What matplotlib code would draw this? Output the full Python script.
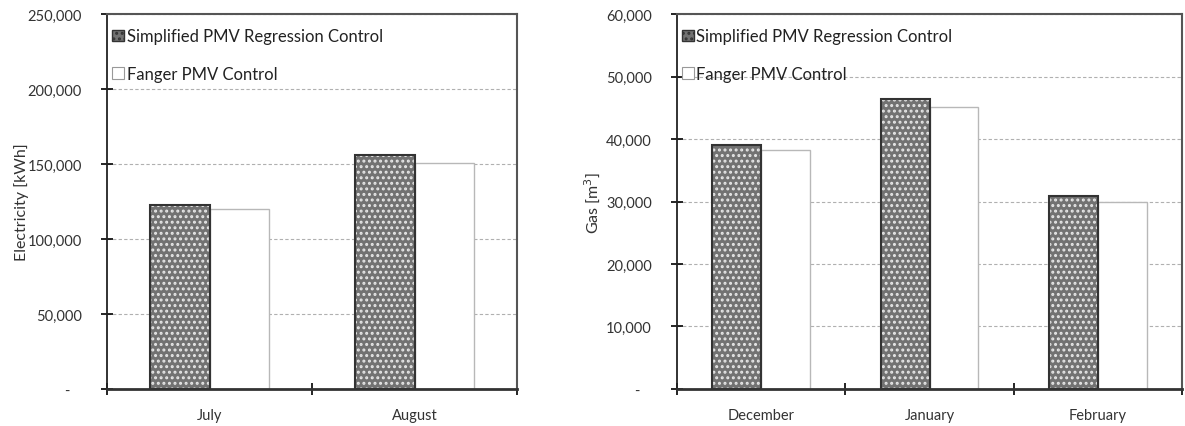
import numpy as np
import matplotlib
matplotlib.use("Agg")
import matplotlib.pyplot as plt
from matplotlib.ticker import FuncFormatter

plt.rcParams['font.family'] = ['Lato', 'DejaVu Sans']
plt.rcParams['hatch.linewidth'] = 1.4

series_names = ['Simplified PMV Regression Control', 'Fanger PMV Control']

elec_months = ['July', 'August']
elec_simplified = [122500, 156300]
elec_fanger = [120000, 150600]

gas_months = ['December', 'January', 'February']
gas_simplified = [39000, 46400, 30900]
gas_fanger = [38200, 45100, 29900]


def fmt(v, pos):
    if v == 0:
        return '-   '
    return '{:,.0f}'.format(v)


def draw(ax, cats, simp, fang, ymax, ystep, ylabel, lpad):
    x = np.arange(len(cats))
    w = 0.29
    ax.bar(x - w / 2, simp, w, color='#727272', hatch='...', edgecolor='#e6e6e6',
           linewidth=0, zorder=2)
    ax.bar(x - w / 2, simp, w, color='none', edgecolor='#333333', linewidth=1.5, zorder=3)
    ax.bar(x + w / 2, fang, w, color='white', edgecolor='#b8b8b8', linewidth=1.0, zorder=2)

    ax.set_xlim(-0.5, len(cats) - 0.5)
    ax.set_ylim(0, ymax)
    ax.set_yticks(np.arange(0, ymax + 1, ystep))
    ax.yaxis.set_major_formatter(FuncFormatter(fmt))
    ax.set_xticks(x)
    ax.set_xticklabels(cats)
    ax.set_xticks(np.arange(-0.5, len(cats)), minor=True)
    ax.tick_params(axis='x', which='major', length=0, pad=14, labelsize=10.5, colors='#333333')
    ax.tick_params(axis='x', which='minor', length=8, direction='inout', width=1.2)
    ax.tick_params(axis='y', length=8, direction='inout', width=1.2, labelsize=10.5,
                   colors='black', labelcolor='#333333', pad=14)
    ax.grid(axis='y', linestyle=(0, (3, 2)), color='#b0b0b0', linewidth=0.8, zorder=0)
    ax.set_axisbelow(True)
    for s in ['top', 'right']:
        ax.spines[s].set_color('#555555')
        ax.spines[s].set_linewidth(1.5)
    ax.spines['left'].set_color('#222222')
    ax.spines['left'].set_linewidth(1.3)
    ax.spines['bottom'].set_color('#333333')
    ax.spines['bottom'].set_linewidth(2)
    ax.set_ylabel(ylabel, fontsize=11.5, color='#333333', labelpad=lpad)

    h1 = plt.Rectangle((0, 0), 1, 1, facecolor='#727272', hatch='...', edgecolor='#333333',
                       linewidth=1.0)
    h2 = plt.Rectangle((0, 0), 1, 1, facecolor='white', edgecolor='#999999', linewidth=0.8)
    leg = ax.legend([h1, h2], series_names, loc='upper left', frameon=False,
                    fontsize=12, handlelength=0.7, handleheight=0.7, handletextpad=0.15,
                    labelspacing=1.3, borderaxespad=0.0, bbox_to_anchor=(-0.003, 0.98))
    for t in leg.get_texts():
        t.set_color('#222222')


fig = plt.figure(figsize=(11.85, 4.27), dpi=100)
ax1 = fig.add_axes([0.0903, 0.0867, 0.346, 0.878])
ax2 = fig.add_axes([0.5713, 0.0867, 0.4262, 0.878])

draw(ax1, elec_months, elec_simplified, elec_fanger, 250000, 50000, 'Electricity [kWh]', -1)
draw(ax2, gas_months, gas_simplified, gas_fanger, 60000, 10000, 'Gas [m$^3$]', 3)

fig.savefig('out.png', dpi=100)
